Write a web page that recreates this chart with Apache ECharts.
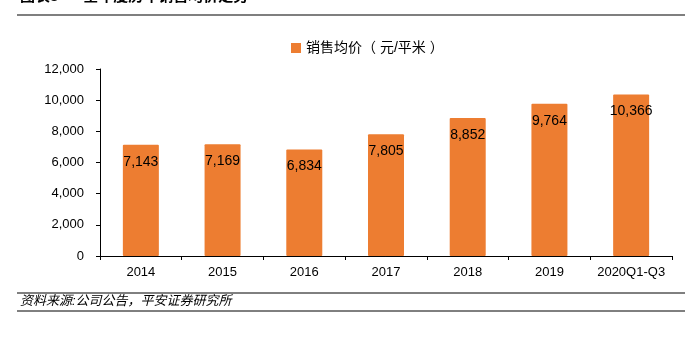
<!DOCTYPE html>
<html>
<head>
<meta charset="utf-8">
<script src="https://cdn.jsdelivr.net/npm/echarts@6/dist/echarts.min.js"></script>
<style>
  html, body { margin: 0; padding: 0; background: #fff; }
  #chart { width: 685px; height: 338px; }
</style>
</head>
<body>
<div id="chart"></div>
<script>
// Average selling price per year (yuan per square metre)
const categories = ['2014', '2015', '2016', '2017', '2018', '2019', '2020Q1-Q3'];
const avgPrice = [7143, 7169, 6834, 7805, 8852, 9764, 10366];
const yTicks = { min: 0, max: 12000, interval: 2000 };
const seriesName = '销售均价（ 元/平米 ）';
const titleText = '图表3      全年度历年销售均价走势';
const sourceText = '资料来源:公司公告，平安证券研究所';

const fontFamily = '"Liberation Sans", Arial, "Noto Sans CJK SC", sans-serif';
const chart = echarts.init(document.getElementById('chart'), null, { renderer: 'canvas' });

chart.setOption({
  animation: false,
  textStyle: { fontFamily: fontFamily },
  legend: {
    data: [seriesName],
    top: 36,
    left: 286,
    itemWidth: 10,
    itemHeight: 10,
    itemGap: 3,
    icon: 'rect',
    textStyle: { fontSize: 14, color: '#000', fontFamily: fontFamily }
  },
  grid: { left: 100, right: 13, top: 69, bottom: 82 },
  xAxis: {
    type: 'category',
    data: categories,
    axisLine: { lineStyle: { color: '#000', width: 1 } },
    axisTick: { show: true, length: 4, lineStyle: { color: '#000' } },
    axisLabel: { color: '#000', fontSize: 13, margin: 10, interval: 0 }
  },
  yAxis: {
    type: 'value',
    min: yTicks.min,
    max: yTicks.max,
    interval: yTicks.interval,
    splitLine: { show: false },
    axisLine: { show: true, lineStyle: { color: '#000', width: 1 } },
    axisTick: { show: true, length: 4, lineStyle: { color: '#000' } },
    axisLabel: {
      color: '#000',
      fontSize: 13,
      margin: 16,
      formatter: v => v.toLocaleString('en-US')
    }
  },
  series: [{
    name: seriesName,
    type: 'bar',
    data: avgPrice,
    barWidth: 36,
    itemStyle: { color: '#ED7D31', borderRadius: 1 },
    label: {
      show: true,
      position: 'insideTop',
      distance: 10,
      color: '#000',
      fontSize: 14,
      formatter: p => p.value.toLocaleString('en-US')
    }
  }],
  graphic: [
    { type: 'text', left: 20, top: -11, style: { text: titleText, fontSize: 15, fontWeight: 'bold', fill: '#000', fontFamily: fontFamily } },
    { type: 'line', shape: { x1: 17, y1: 15, x2: 685, y2: 15 }, style: { stroke: '#000', lineWidth: 1.2 } },
    { type: 'line', shape: { x1: 17, y1: 293, x2: 685, y2: 293 }, style: { stroke: '#000', lineWidth: 1 } },
    { type: 'text', left: 20, top: 295, style: { text: sourceText, fontSize: 13, fontStyle: 'italic', fill: '#000', fontFamily: fontFamily } },
    { type: 'line', shape: { x1: 17, y1: 311, x2: 685, y2: 311 }, style: { stroke: '#000', lineWidth: 1 } }
  ]
});
</script>
</body>
</html>
